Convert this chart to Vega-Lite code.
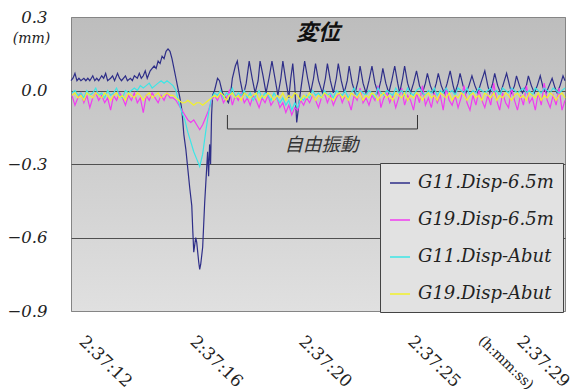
{
 "$schema": "https://vega.github.io/schema/vega-lite/v6.json",
 "width": 494,
 "height": 294,
 "autosize": {"type": "none"},
 "padding": {"left": 71, "top": 17, "right": 9, "bottom": 79},
 "background": "white",
 "config": {
  "view": {"stroke": "#858585", "strokeWidth": 1, "fill": {"gradient": "linear", "x1": 0, "y1": 0, "x2": 0, "y2": 1, "stops": [{"offset": 0, "color": "#bdbdbd"}, {"offset": 1, "color": "#e0e0e0"}]}}
 },
 "title": {"text": "変位", "font": "Noto Sans CJK JP", "fontSize": 22, "fontWeight": "bold", "fontStyle": "italic", "color": "#111", "anchor": "middle", "baseline": "middle", "offset": -16, "dy": 30},
 "datasets": {
  "blue": [
   {"n":-1,"v":0.04},{"n":1,"v":0.05},{"n":3,"v":0.07},{"n":5,"v":0.04},{"n":7,"v":0.05},{"n":9,"v":0.04},{"n":12,"v":0.05},{"n":14,"v":0.04},{"n":16,"v":0.05},{"n":18,"v":0.04},{"n":21,"v":0.06},{"n":23,"v":0.04},{"n":25,"v":0.05},{"n":27,"v":0.04},{"n":30,"v":0.06},{"n":32,"v":0.05},{"n":34,"v":0.07},{"n":36,"v":0.04},{"n":39,"v":0.05},{"n":41,"v":0.06},{"n":43,"v":0.04},{"n":46,"v":0.07},{"n":48,"v":0.05},{"n":50,"v":0.04},{"n":54,"v":0.06},{"n":56,"v":0.04},{"n":59,"v":0.05},{"n":61,"v":0.04},{"n":63,"v":0.06},{"n":66,"v":0.05},{"n":68,"v":0.07},{"n":70,"v":0.05},{"n":72,"v":0.06},{"n":74,"v":0.08},{"n":76,"v":0.05},{"n":79,"v":0.08},{"n":81,"v":0.09},{"n":83,"v":0.1},{"n":85,"v":0.09},{"n":87,"v":0.12},{"n":89,"v":0.11},{"n":91,"v":0.14},{"n":93,"v":0.13},{"n":95,"v":0.16},{"n":97,"v":0.17},{"n":99,"v":0.16},{"n":101,"v":0.13},{"n":103,"v":0.09},{"n":105,"v":0.05},{"n":107,"v":0.01},{"n":109,"v":-0.03},{"n":111,"v":-0.08},{"n":113,"v":-0.18},{"n":115,"v":-0.24},{"n":117,"v":-0.32},{"n":119,"v":-0.4},{"n":121,"v":-0.47},{"n":122,"v":-0.57},{"n":123,"v":-0.66},{"n":125,"v":-0.6},{"n":126,"v":-0.62},{"n":128,"v":-0.7},{"n":129,"v":-0.73},{"n":130,"v":-0.71},{"n":132,"v":-0.64},{"n":134,"v":-0.46},{"n":136,"v":-0.32},{"n":137,"v":-0.25},{"n":138,"v":-0.35},{"n":139,"v":-0.22},{"n":140,"v":-0.3},{"n":141,"v":-0.1},{"n":142,"v":-0.02},{"n":144,"v":0.0},{"n":147,"v":0.05},{"n":149,"v":0.04},{"n":152,"v":-0.01},{"n":155,"v":-0.03},{"n":158,"v":-0.05},{"n":160,"v":-0.02},{"n":162,"v":0.05},{"n":165,"v":0.1},{"n":167,"v":0.12},{"n":170,"v":0.04},{"n":173,"v":-0.02},{"n":176,"v":0.03},{"n":179,"v":0.12},{"n":182,"v":0.05},{"n":185,"v":-0.01},{"n":188,"v":0.04},{"n":190,"v":0.12},{"n":193,"v":0.06},{"n":196,"v":-0.01},{"n":199,"v":0.05},{"n":202,"v":0.12},{"n":205,"v":0.05},{"n":208,"v":-0.02},{"n":211,"v":0.05},{"n":213,"v":0.12},{"n":216,"v":0.04},{"n":219,"v":-0.03},{"n":221,"v":0.05},{"n":223,"v":0.11},{"n":225,"v":0.02},{"n":227,"v":-0.13},{"n":230,"v":-0.03},{"n":233,"v":0.06},{"n":235,"v":0.12},{"n":238,"v":0.05},{"n":241,"v":-0.01},{"n":244,"v":0.05},{"n":246,"v":0.11},{"n":249,"v":0.04},{"n":253,"v":-0.01},{"n":256,"v":0.05},{"n":258,"v":0.11},{"n":261,"v":0.04},{"n":264,"v":-0.01},{"n":267,"v":0.05},{"n":269,"v":0.11},{"n":272,"v":0.04},{"n":275,"v":-0.01},{"n":278,"v":0.04},{"n":280,"v":0.1},{"n":283,"v":0.03},{"n":286,"v":-0.01},{"n":289,"v":0.04},{"n":291,"v":0.1},{"n":294,"v":0.03},{"n":297,"v":-0.01},{"n":300,"v":0.04},{"n":303,"v":0.1},{"n":306,"v":0.03},{"n":309,"v":-0.01},{"n":312,"v":0.04},{"n":314,"v":0.09},{"n":317,"v":0.03},{"n":320,"v":-0.01},{"n":323,"v":0.04},{"n":326,"v":0.1},{"n":329,"v":0.03},{"n":331,"v":-0.01},{"n":334,"v":0.05},{"n":336,"v":0.1},{"n":339,"v":0.03},{"n":342,"v":-0.01},{"n":345,"v":0.03},{"n":348,"v":0.08},{"n":351,"v":0.02},{"n":354,"v":-0.01},{"n":357,"v":0.03},{"n":359,"v":0.07},{"n":362,"v":0.02},{"n":365,"v":-0.01},{"n":368,"v":0.03},{"n":370,"v":0.07},{"n":373,"v":0.02},{"n":376,"v":-0.01},{"n":379,"v":0.03},{"n":382,"v":0.08},{"n":385,"v":0.02},{"n":387,"v":-0.01},{"n":390,"v":0.03},{"n":392,"v":0.07},{"n":395,"v":0.02},{"n":398,"v":-0.01},{"n":401,"v":0.02},{"n":404,"v":0.06},{"n":407,"v":0.02},{"n":410,"v":-0.01},{"n":413,"v":0.03},{"n":417,"v":0.08},{"n":420,"v":0.02},{"n":422,"v":-0.01},{"n":425,"v":0.03},{"n":427,"v":0.07},{"n":430,"v":0.02},{"n":433,"v":-0.01},{"n":436,"v":0.03},{"n":439,"v":0.07},{"n":442,"v":0.02},{"n":444,"v":-0.01},{"n":447,"v":0.02},{"n":449,"v":0.06},{"n":452,"v":0.02},{"n":455,"v":-0.01},{"n":459,"v":0.02},{"n":461,"v":0.06},{"n":464,"v":0.02},{"n":467,"v":-0.01},{"n":470,"v":0.02},{"n":473,"v":0.06},{"n":476,"v":0.01},{"n":479,"v":-0.01},{"n":482,"v":0.02},{"n":485,"v":0.05},{"n":488,"v":0.01},{"n":490,"v":-0.01},{"n":493,"v":0.02},{"n":496,"v":0.06},{"n":498,"v":0.04}
  ],
  "other": [
   {"n":0,"b":-0.02,"c":-0.01,"d":-0.02},{"n":3,"b":-0.06,"c":0.0,"d":-0.01},{"n":6,"b":-0.03,"c":-0.02,"d":-0.03},{"n":9,"b":-0.01,"c":-0.01,"d":-0.02},{"n":12,"b":-0.05,"c":-0.03,"d":-0.04},{"n":15,"b":-0.02,"c":0.0,"d":-0.01},{"n":18,"b":-0.07,"c":-0.02,"d":-0.02},{"n":21,"b":-0.03,"c":-0.01,"d":-0.03},{"n":24,"b":-0.01,"c":0.01,"d":-0.01},{"n":27,"b":-0.04,"c":-0.02,"d":-0.02},
   {"n":30,"b":-0.02,"c":-0.01,"d":-0.03},{"n":33,"b":-0.05,"c":-0.03,"d":-0.01},{"n":36,"b":-0.03,"c":0.0,"d":-0.02},{"n":39,"b":-0.08,"c":-0.02,"d":-0.04},{"n":42,"b":-0.02,"c":-0.01,"d":-0.02},{"n":45,"b":-0.04,"c":0.01,"d":-0.01},{"n":48,"b":-0.01,"c":-0.02,"d":-0.03},{"n":51,"b":-0.03,"c":-0.03,"d":-0.02},{"n":54,"b":-0.06,"c":0.0,"d":-0.04},{"n":57,"b":-0.02,"c":-0.01,"d":-0.01},
   {"n":60,"b":-0.04,"c":0.0,"d":-0.02},{"n":63,"b":-0.01,"c":0.01,"d":-0.03},{"n":66,"b":-0.05,"c":0.0,"d":-0.01},{"n":69,"b":-0.03,"c":0.02,"d":-0.02},{"n":72,"b":-0.09,"c":0.01,"d":-0.04},{"n":75,"b":-0.02,"c":0.02,"d":-0.02},{"n":78,"b":-0.04,"c":0.03,"d":-0.01},{"n":81,"b":-0.01,"c":0.01,"d":-0.03},{"n":84,"b":-0.03,"c":0.02,"d":-0.02},{"n":87,"b":-0.05,"c":0.03,"d":-0.01},
   {"n":90,"b":-0.02,"c":0.04,"d":-0.03},{"n":93,"b":-0.04,"c":0.03,"d":-0.02},{"n":96,"b":-0.01,"c":0.04,"d":-0.01},{"n":99,"b":-0.03,"c":0.03,"d":-0.02},{"n":102,"b":-0.03,"c":0.02,"d":-0.02},{"n":105,"b":-0.04,"c":0.0,"d":-0.03},{"n":108,"b":-0.06,"c":-0.05,"d":-0.04},{"n":111,"b":-0.08,"c":-0.09,"d":-0.05},{"n":114,"b":-0.1,"c":-0.12,"d":-0.05},{"n":117,"b":-0.12,"c":-0.17,"d":-0.04},
   {"n":120,"b":-0.13,"c":-0.21,"d":-0.05},{"n":123,"b":-0.12,"c":-0.25,"d":-0.06},{"n":126,"b":-0.14,"c":-0.28,"d":-0.05},{"n":129,"b":-0.16,"c":-0.31,"d":-0.05},{"n":132,"b":-0.14,"c":-0.26,"d":-0.06},{"n":135,"b":-0.11,"c":-0.17,"d":-0.05},{"n":138,"b":-0.08,"c":-0.09,"d":-0.04},{"n":141,"b":-0.04,"c":-0.03,"d":-0.03},{"n":144,"b":-0.02,"c":-0.01,"d":-0.02},{"n":147,"b":-0.04,"c":-0.02,"d":-0.03},
   {"n":150,"b":-0.01,"c":0.0,"d":-0.01},{"n":153,"b":-0.05,"c":-0.03,"d":-0.02},{"n":156,"b":-0.03,"c":-0.01,"d":-0.04},{"n":159,"b":0.0,"c":-0.02,"d":-0.02},{"n":162,"b":-0.06,"c":0.01,"d":-0.01},{"n":165,"b":-0.02,"c":-0.03,"d":-0.03},{"n":168,"b":-0.04,"c":-0.01,"d":-0.02},{"n":171,"b":-0.01,"c":-0.02,"d":-0.04},{"n":174,"b":-0.05,"c":0.0,"d":-0.01},{"n":177,"b":-0.03,"c":-0.03,"d":-0.02},
   {"n":180,"b":-0.06,"c":-0.01,"d":-0.03},{"n":183,"b":-0.02,"c":-0.04,"d":-0.02},{"n":186,"b":-0.04,"c":-0.02,"d":-0.01},{"n":189,"b":-0.07,"c":0.0,"d":-0.04},{"n":192,"b":-0.03,"c":-0.03,"d":-0.02},{"n":195,"b":-0.05,"c":-0.01,"d":-0.03},{"n":198,"b":-0.02,"c":-0.02,"d":-0.01},{"n":201,"b":-0.06,"c":-0.04,"d":-0.02},{"n":204,"b":-0.04,"c":-0.01,"d":-0.04},{"n":207,"b":-0.03,"c":-0.03,"d":-0.02},
   {"n":210,"b":-0.07,"c":-0.05,"d":-0.03},{"n":213,"b":-0.05,"c":-0.03,"d":-0.01},{"n":216,"b":-0.09,"c":-0.06,"d":-0.04},{"n":219,"b":-0.06,"c":-0.04,"d":-0.02},{"n":222,"b":-0.1,"c":-0.08,"d":-0.03},{"n":225,"b":-0.07,"c":-0.05,"d":-0.01},{"n":228,"b":-0.08,"c":-0.07,"d":-0.02},{"n":231,"b":-0.04,"c":-0.03,"d":-0.04},{"n":234,"b":-0.06,"c":-0.04,"d":-0.02},{"n":237,"b":-0.03,"c":-0.02,"d":-0.03},
   {"n":240,"b":-0.05,"c":-0.03,"d":-0.01},{"n":243,"b":-0.02,"c":0.0,"d":-0.02},{"n":246,"b":-0.04,"c":-0.02,"d":-0.04},{"n":249,"b":-0.07,"c":-0.01,"d":-0.02},{"n":252,"b":-0.03,"c":-0.03,"d":-0.03},{"n":255,"b":-0.01,"c":0.0,"d":-0.01},{"n":258,"b":-0.05,"c":-0.02,"d":-0.02},{"n":261,"b":-0.02,"c":-0.01,"d":-0.03},{"n":264,"b":-0.06,"c":-0.03,"d":-0.04},{"n":267,"b":-0.03,"c":0.0,"d":-0.02},
   {"n":270,"b":-0.01,"c":-0.01,"d":-0.01},{"n":273,"b":-0.05,"c":-0.02,"d":-0.03},{"n":276,"b":-0.02,"c":0.0,"d":-0.02},{"n":279,"b":-0.04,"c":-0.03,"d":-0.04},{"n":282,"b":-0.08,"c":-0.01,"d":-0.01},{"n":285,"b":-0.02,"c":0.01,"d":-0.02},{"n":288,"b":-0.04,"c":-0.02,"d":-0.03},{"n":291,"b":0.01,"c":0.0,"d":-0.01},{"n":294,"b":-0.05,"c":-0.01,"d":-0.04},{"n":297,"b":-0.03,"c":-0.02,"d":-0.02},
   {"n":300,"b":-0.06,"c":0.0,"d":-0.03},{"n":303,"b":-0.02,"c":-0.01,"d":-0.01},{"n":306,"b":-0.04,"c":-0.03,"d":-0.02},{"n":309,"b":0.02,"c":0.01,"d":-0.04},{"n":312,"b":-0.07,"c":-0.01,"d":-0.02},{"n":315,"b":-0.03,"c":-0.02,"d":-0.01},{"n":318,"b":-0.01,"c":0.0,"d":-0.03},{"n":321,"b":-0.05,"c":-0.01,"d":-0.02},{"n":324,"b":-0.02,"c":-0.02,"d":-0.04},{"n":327,"b":-0.07,"c":0.01,"d":-0.01},
   {"n":330,"b":-0.03,"c":-0.01,"d":-0.02},{"n":333,"b":0.01,"c":0.0,"d":-0.03},{"n":336,"b":-0.06,"c":-0.02,"d":-0.01},{"n":339,"b":-0.02,"c":0.01,"d":-0.04},{"n":342,"b":-0.04,"c":-0.01,"d":-0.02},{"n":345,"b":-0.08,"c":-0.02,"d":-0.03},{"n":348,"b":-0.01,"c":0.0,"d":-0.01},{"n":351,"b":-0.05,"c":0.01,"d":-0.02},{"n":354,"b":0.02,"c":-0.01,"d":-0.04},{"n":357,"b":-0.06,"c":-0.02,"d":-0.02},
   {"n":360,"b":-0.03,"c":0.0,"d":-0.01},{"n":363,"b":-0.07,"c":-0.01,"d":-0.03},{"n":366,"b":-0.01,"c":0.01,"d":-0.02},{"n":369,"b":-0.05,"c":-0.02,"d":-0.04},{"n":372,"b":-0.02,"c":0.0,"d":-0.01},{"n":375,"b":-0.08,"c":-0.01,"d":-0.02},{"n":378,"b":0.01,"c":0.01,"d":-0.03},{"n":381,"b":-0.04,"c":-0.01,"d":-0.01},{"n":384,"b":-0.06,"c":0.0,"d":-0.04},{"n":387,"b":-0.02,"c":-0.02,"d":-0.02},
   {"n":390,"b":-0.07,"c":0.01,"d":-0.03},{"n":393,"b":-0.03,"c":0.0,"d":-0.01},{"n":396,"b":0.02,"c":-0.01,"d":-0.02},{"n":399,"b":-0.05,"c":0.01,"d":-0.04},{"n":402,"b":-0.08,"c":-0.02,"d":-0.02},{"n":405,"b":-0.02,"c":0.0,"d":-0.01},{"n":408,"b":-0.06,"c":-0.01,"d":-0.03},{"n":411,"b":0.0,"c":0.01,"d":-0.02},{"n":414,"b":-0.04,"c":0.0,"d":-0.04},{"n":417,"b":-0.07,"c":-0.01,"d":-0.01},
   {"n":420,"b":-0.02,"c":0.0,"d":-0.02},{"n":423,"b":-0.06,"c":0.01,"d":-0.03},{"n":426,"b":0.03,"c":-0.01,"d":-0.01},{"n":429,"b":-0.04,"c":0.0,"d":-0.04},{"n":432,"b":-0.08,"c":-0.02,"d":-0.02},{"n":435,"b":-0.01,"c":0.01,"d":-0.03},{"n":438,"b":-0.05,"c":0.0,"d":-0.01},{"n":441,"b":-0.07,"c":-0.01,"d":-0.02},{"n":444,"b":0.01,"c":0.01,"d":-0.04},{"n":447,"b":-0.04,"c":0.0,"d":-0.02},
   {"n":450,"b":-0.08,"c":-0.01,"d":-0.01},{"n":453,"b":-0.02,"c":0.0,"d":-0.03},{"n":456,"b":-0.06,"c":0.01,"d":-0.02},{"n":459,"b":0.02,"c":-0.01,"d":-0.04},{"n":462,"b":-0.05,"c":0.0,"d":-0.01},{"n":465,"b":-0.03,"c":-0.02,"d":-0.02},{"n":468,"b":-0.08,"c":0.01,"d":-0.03},{"n":471,"b":-0.01,"c":0.0,"d":-0.01},{"n":474,"b":-0.06,"c":-0.01,"d":-0.04},{"n":477,"b":0.03,"c":0.01,"d":-0.02},
   {"n":480,"b":-0.04,"c":0.0,"d":-0.03},{"n":483,"b":-0.07,"c":-0.01,"d":-0.01},{"n":486,"b":-0.02,"c":0.01,"d":-0.02},{"n":489,"b":-0.06,"c":0.0,"d":-0.04},{"n":492,"b":0.01,"c":-0.01,"d":-0.02},{"n":495,"b":-0.08,"c":0.0,"d":-0.01},{"n":498,"b":-0.04,"c":0.01,"d":-0.03}
  ],
  "bracket": [
   {"n":157,"v":-0.1,"o":0},{"n":157,"v":-0.157,"o":1},{"n":349,"v":-0.157,"o":2},{"n":349,"v":-0.1,"o":3}
  ],
  "note": [
   {"n":252,"v":-0.222,"label":"自由振動"}
  ]
 },
 "encoding": {
  "x": {"field": "n", "type": "quantitative", "scale": {"domain": [-1, 498], "nice": false, "zero": false},
   "axis": {"values": [15, 127, 237, 347, 417, 457],
    "labelExpr": "datum.value == 15 ? '2:37:12' : datum.value == 127 ? '2:37:16' : datum.value == 237 ? '2:37:20' : datum.value == 347 ? '2:37:25' : datum.value == 417 ? '(h:mm:ss)' : '2:37:29'",
    "labelAngle": 44, "labelAlign": "left", "labelBaseline": "top", "labelPadding": 22,
    "ticks": false, "domain": false, "grid": false, "title": null,
    "labelFont": "DejaVu Serif", "labelFontSize": {"condition": {"test": "datum.value == 417", "value": 14}, "value": 17},
    "labelColor": "#222", "labelOverlap": false, "labelBound": false, "labelFlush": false}},
  "y": {"field": "v", "type": "quantitative", "scale": {"domain": [-0.9, 0.3], "nice": false, "zero": false},
   "axis": {"values": [-0.9, -0.6, -0.3, 0, 0.3], "format": ".1f", "ticks": false, "domain": false,
    "grid": true, "gridColor": {"condition": {"test": "datum.value == 0.3 || datum.value == -0.9", "value": "#858585"}, "value": "#505050"}, "gridWidth": 1,
    "labelFont": "DejaVu Serif", "labelFontStyle": "italic", "labelFontSize": 16.5, "labelColor": "#222", "labelPadding": 24, "labelOverlap": false,
    "title": "(mm)", "titleAngle": 0, "titleX": -40, "titleY": 21, "titleAlign": "center", "titleBaseline": "middle",
    "titleFont": "DejaVu Serif", "titleFontStyle": "italic", "titleFontWeight": "normal", "titleFontSize": 14, "titleColor": "#222"}}
 },
 "layer": [
  {
   "data": {"name": "blue"},
   "mark": {"type": "line", "strokeWidth": 1.2},
   "encoding": {
    "color": {"datum": "a", "type": "nominal", "title": null,
     "scale": {"domain": ["a", "b", "c", "d"], "range": ["#2e2e88", "#f03cf0", "#3ce6e6", "#f2f22a"]},
     "legend": {"title": null, "orient": "none", "legendX": 309, "legendY": 146,
      "fillColor": "#e2e2e2", "strokeColor": "#444", "padding": 9, "rowPadding": 17,
      "symbolType": "stroke", "symbolSize": 400, "symbolStrokeWidth": 1.5,
      "labelFont": "DejaVu Serif", "labelFontStyle": "italic", "labelFontSize": 18, "labelColor": "#222", "labelOffset": 7, "labelLimit": 300,
      "labelExpr": "datum.label == 'a' ? 'G11.Disp-6.5m' : datum.label == 'b' ? 'G19.Disp-6.5m' : datum.label == 'c' ? 'G11.Disp-Abut' : 'G19.Disp-Abut'"}}
   }
  },
  {
   "data": {"name": "other"},
   "transform": [{"fold": ["b", "c", "d"], "as": ["s", "v"]}],
   "mark": {"type": "line", "strokeWidth": 1.2},
   "encoding": {"color": {"field": "s", "type": "nominal", "title": null}}
  },
  {
   "data": {"name": "bracket"},
   "mark": {"type": "line", "color": "#333", "strokeWidth": 1},
   "encoding": {"order": {"field": "o", "type": "quantitative"}}
  },
  {
   "data": {"name": "note"},
   "mark": {"type": "text", "font": "Noto Sans CJK JP", "fontSize": 18.5, "fontStyle": "italic", "color": "#333", "align": "center", "baseline": "middle"},
   "encoding": {"text": {"field": "label"}}
  }
 ]
}
